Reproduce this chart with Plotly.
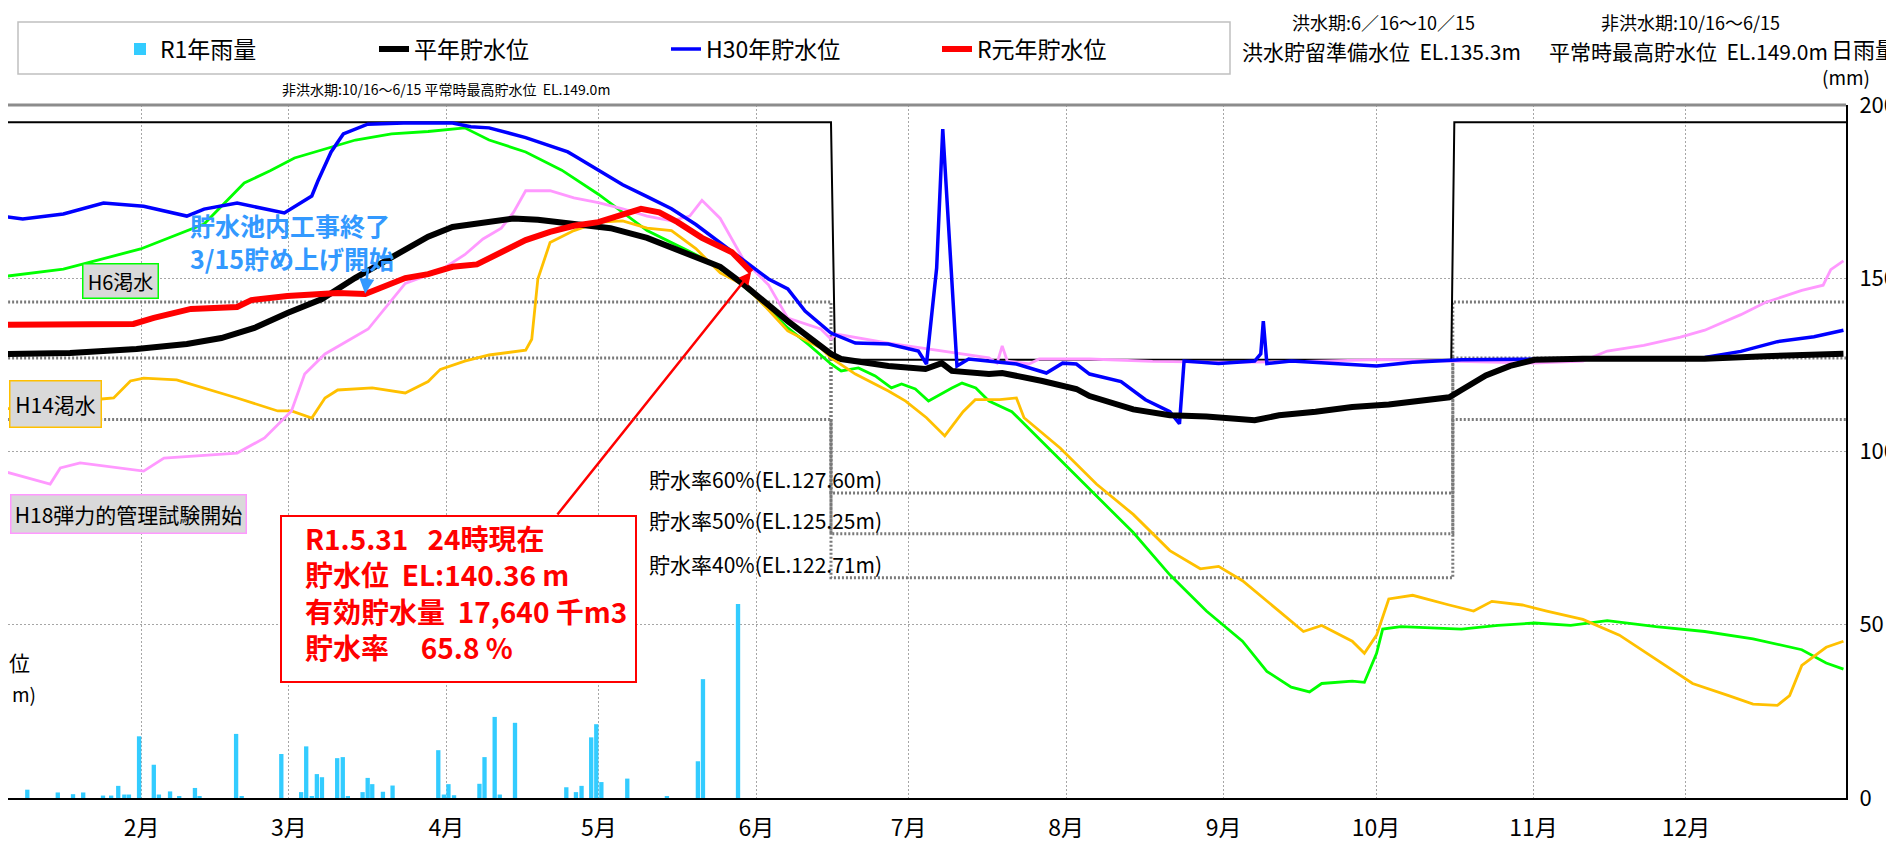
import plotly.graph_objects as go

FONT = "Noto Sans CJK JP"

# ---------------- data ----------------
# x = day index from Jan 1 (0) on a 366-day calendar; water level in EL.m; daily rain in mm
month_days = [31, 60, 91, 121, 152, 182, 213, 244, 274, 305, 335]
month_text = ["2月", "3月", "4月", "5月", "6月", "7月", "8月", "9月", "10月", "11月", "12月"]
rain_ticks = [0, 50, 100, 150, 200]

rain_day = [8.5, 14.5, 17.5, 19.5, 23.4, 25.0, 26.4, 27.6, 28.5, 30.5,
            33.4, 34.4, 36.6, 38.4, 41.5, 42.4, 49.6, 50.7, 58.5, 62.4,
            63.4, 64.5, 65.5, 66.5, 69.5, 70.6, 71.6, 74.5, 75.5, 76.4,
            78.5, 80.4, 89.4, 90.5, 91.4, 92.5, 97.5, 98.5, 100.5, 101.5,
            104.5, 114.6, 116.5, 117.6, 119.5, 120.5, 121.5, 126.6, 134.4, 140.5,
            141.5, 148.4]
rain_mm = [2.4, 1.6, 1.1, 1.6, 0.7, 0.7, 3.5, 1.0, 1.0, 17.8,
           9.6, 1.0, 1.9, 0.5, 2.9, 0.4, 18.5, 0.4, 12.7, 1.7,
           14.9, 0.4, 6.9, 6.0, 11.5, 11.8, 0.4, 1.7, 5.8, 4.0,
           1.8, 3.6, 13.8, 1.0, 4.0, 0.8, 4.1, 11.8, 23.4, 1.0,
           21.7, 3.1, 1.7, 3.5, 17.5, 21.3, 4.6, 5.6, 0.3, 10.6,
           34.3, 56.0]

heinen_day = [0, 16.9, 30.0, 39.9, 46.7, 53.2, 59.7, 66.5, 73.0, 82.9,
              87.4, 92.2, 99.4, 104.2, 109.0, 116.1, 123.3, 130.5, 137.7, 144.9,
              149.6, 156.8, 158.2, 166.7, 168.7, 178.0, 185.3, 188.5, 190.5, 197.8,
              200.4, 208.3, 215.0, 217.6, 226.2, 233.4, 240.6, 250.1, 254.9, 262.1,
              269.3, 276.5, 283.6, 288.4, 290.8, 295.6, 300.4, 305.2, 314.7, 338.7,
              350.6, 366]
heinen_el = [135.6, 135.68, 135.92, 136.21, 136.55, 137.13, 138.0, 138.8, 140.01, 141.69,
             142.4, 142.96, 143.24, 143.45, 143.38, 143.1, 142.89, 142.33, 141.5, 140.66,
             139.62, 137.9, 137.53, 135.63, 135.34, 134.94, 134.76, 135.1, 134.65, 134.47,
             134.53, 134.07, 133.61, 133.2, 132.43, 132.09, 132.02, 131.81, 132.09, 132.3,
             132.57, 132.71, 132.99, 133.13, 133.55, 134.39, 134.94, 135.29, 135.36, 135.36,
             135.5, 135.64]

r1_day = [0, 29.4, 33.4, 40.7, 49.8, 52.6, 59.7, 69.6, 75.0, 82.9,
          87.4, 92.2, 97.0, 101.8, 106.6, 111.4, 116.1, 120.9, 125.7, 129.3,
          132.9, 136.5, 141.3, 147.2, 151]
r1_el = [137.3, 137.36, 137.71, 138.23, 138.34, 138.74, 138.98, 139.15, 139.09, 140.01,
         140.24, 140.66, 140.8, 141.5, 142.2, 142.68, 143.03, 143.24, 143.73, 144.01,
         143.8, 143.24, 142.33, 141.5, 140.36]

h30_day = [0, 7.6, 15.6, 23.5, 31.4, 39.9, 43.3, 49.8, 59.1, 63.1,
           64.5, 65.7, 68.3, 70.7, 75.5, 82.6, 92.2, 95.8, 99.4, 106.6,
           111.4, 114.9, 116.1, 120.9, 125.7, 130.5, 135.3, 140.1, 144.9, 149.6,
           154.4, 158.2, 161.6, 166.7, 171.5, 178.0, 183.9, 185.5, 187.5, 188.7,
           191.5, 193.8, 199.2, 203.2, 209.1, 212.3, 215.0, 217.6, 223.8, 228.6,
           233.4, 235.3, 236.2, 243.0, 250.1, 251.3, 251.8, 252.5, 257.3, 266.9,
           274.1, 281.2, 290.8, 314.7, 338.7, 345.8, 353.0, 360.2, 366]
h30_el = [143.71, 143.42, 143.71, 144.34, 144.16, 143.59, 143.99, 144.34, 143.77, 144.46,
          144.75, 145.61, 147.29, 148.33, 148.89, 148.96, 148.96, 148.75, 148.68, 148.12,
          147.63, 147.29, 147.08, 146.24, 145.4, 144.71, 144.01, 143.1, 142.06, 141.01,
          139.96, 139.38, 138.11, 136.84, 136.26, 136.2, 135.8, 135.05, 140.59, 148.61,
          134.94, 135.34, 135.2, 135.05, 134.53, 135.1, 135.05, 134.47, 134.04, 132.99,
          132.3, 131.6, 135.22, 135.08, 135.22, 135.64, 137.52, 135.08, 135.22, 135.08,
          134.94, 135.15, 135.29, 135.36, 135.43, 135.78, 136.34, 136.62, 137.0]

h6_day = [0, 15.6, 30.8, 43.3, 51.2, 56.3, 61.1, 65.9, 73.1, 80.2,
          87.4, 94.6, 99.4, 106.6, 113.7, 120.9, 125.7, 130.5, 137.7, 142.5,
          147.2, 152.0, 158.2, 162.2, 166.7, 168.7, 172.1, 175.4, 178.6, 180.6,
          183.3, 185.9, 190.5, 192.5, 195.2, 197.8, 202.3, 207.1, 211.8, 219.0,
          226.2, 233.4, 240.6, 247.7, 252.5, 257.3, 260.9, 263.3, 269.3, 271.7,
          274.1, 275.3, 278.9, 290.8, 298.0, 305.2, 312.3, 319.5, 329.1, 338.7,
          348.2, 357.8, 362.6, 366]
h6_el = [139.96, 140.53, 141.69, 143.13, 145.5, 146.2, 146.94, 147.36, 147.98, 148.33,
         148.47, 148.68, 147.98, 147.29, 146.24, 144.85, 143.8, 142.75, 141.71, 141.01,
         140.1, 138.92, 137.13, 136.2, 135.05, 134.65, 134.82, 134.36, 133.67, 133.9,
         133.61, 132.91, 133.67, 133.95, 133.67, 132.91, 132.3, 130.9, 129.51, 127.41,
         125.32, 122.88, 120.79, 119.05, 117.31, 116.4, 116.12, 116.61, 116.75, 116.68,
         118.35, 119.75, 119.89, 119.75, 119.96, 120.1, 119.96, 120.24, 119.89, 119.61,
         119.19, 118.56, 117.79, 117.44]

h14_day = [0, 12.0, 23.1, 25.5, 28.8, 31.4, 37.9, 49.8, 57.8, 60.5,
           64.5, 67.1, 69.6, 76.4, 82.9, 87.4, 89.8, 94.6, 99.4, 104.2,
           106.6, 107.8, 109.0, 111.4, 116.1, 120.9, 125.7, 130.5, 135.3, 140.1,
           144.9, 149.6, 154.0, 158.2, 164.7, 166.7, 171.5, 178.0, 181.4, 185.5,
           189.1, 192.7, 195.1, 199.9, 203.2, 204.7, 211.8, 219.0, 226.2, 233.4,
           239.4, 243.0, 247.7, 254.9, 259.7, 263.3, 269.3, 271.7, 274.1, 276.5,
           281.2, 288.4, 293.2, 296.8, 302.8, 307.6, 314.7, 321.9, 329.1, 336.3,
           343.4, 348.2, 353.0, 355.4, 357.8, 362.6, 366]
h14_el = [132.4, 132.6, 133.03, 133.09, 134.07, 134.24, 134.13, 133.09, 132.34, 132.34,
          131.93, 133.09, 133.55, 133.67, 133.38, 134.04, 134.74, 135.22, 135.57, 135.78,
          135.85, 136.48, 139.96, 142.06, 142.75, 143.24, 143.31, 142.89, 142.75, 141.71,
          140.31, 139.6, 138.3, 136.96, 135.97, 135.4, 134.47, 133.49, 132.91, 131.95,
          130.9, 132.3, 132.99, 132.99, 133.09, 131.95, 130.2, 128.11, 126.37, 124.28,
          123.23, 123.37, 122.54, 120.79, 119.61, 119.96, 119.05, 118.35, 119.4, 121.49,
          121.7, 121.14, 120.79, 121.35, 121.14, 120.79, 120.31, 119.4, 118.0, 116.61,
          115.91, 115.42, 115.35, 115.91, 117.65, 118.7, 119.05]

h18_day = [0, 13.0, 15.0, 18.9, 31.4, 35.4, 49.8, 55.2, 60.5, 63.1,
           67.1, 75.6, 82.9, 89.8, 94.6, 98.2, 101.8, 104.2, 106.6, 111.4,
           116.1, 120.9, 125.7, 130.5, 135.3, 138.9, 141.3, 144.9, 149.6, 154.4,
           158.2, 164.7, 166.7, 167.7, 178.0, 197.8, 199.4, 200.4, 201.4, 205.7,
           207.7, 217.6, 230, 245, 260, 275, 290, 305, 314.7, 319.5,
           326.7, 333.9, 338.7, 345.8, 350.6, 357.8, 362.0, 363.5, 366]
h18_el = [129.16, 128.12, 129.05, 129.34, 128.87, 129.62, 129.91, 130.78, 132.34, 134.47,
          135.63, 137.07, 139.7, 140.45, 141.36, 142.27, 142.89, 143.8, 145.05, 145.05,
          144.64, 144.36, 144.01, 143.59, 143.31, 143.59, 144.5, 143.45, 141.01, 139.62,
          137.7, 137.07, 136.49, 136.78, 136.26, 135.4, 135.1, 136.09, 135.22, 135.05,
          135.34, 135.34, 135.2, 135.15, 135.2, 135.3, 135.2, 135.1, 135.22, 135.8,
          136.13, 136.6, 137.0, 137.9, 138.6, 139.3, 139.6, 140.5, 141.0]

# operating rule (flood season 6/16-10/15)
rule_day = [0, 166.7, 167.5, 288.8, 289.4, 366.5]
rule_el = [149.0, 149.0, 135.3, 135.3, 149.0, 149.0]

# storage-rate guide lines
guide_day = [0, 166.7, 166.7, 289.1, 289.1, 366.5]
guide_hi_el = [138.63, 138.63, 127.60, 127.60, 138.63, 138.63]
guide_mid_el = [135.4, 135.4, 125.25, 125.25, 135.4, 135.4]
guide_lo_el = [131.84, 131.84, 122.71, 122.71, 131.84, 131.84]

# ---------------- layout geometry ----------------
W, H = 1894, 846
PL, PR, PT, PB = 0, 1838, 97, 790
PW, PH = PR - PL, PB - PT
X_RANGE = [4.7, 366.5]


def px(x):
    return (x - PL) / PW


def py(y):
    return (PB - y) / PH


fig = go.Figure()

fig.add_trace(go.Bar(x=rain_day, y=rain_mm, name="R1年雨量", yaxis="y",
                     marker=dict(color="#33CCFF", line=dict(width=0)), width=0.85,
                     legendrank=1, legendwidth=209, hoverinfo="skip"))

for g in (guide_hi_el, guide_mid_el, guide_lo_el):
    fig.add_trace(go.Scatter(x=guide_day, y=g, yaxis="y2", mode="lines", showlegend=False,
                             line=dict(color="#7a7a7a", width=3, dash="2px,2px"), hoverinfo="skip"))

fig.add_trace(go.Scatter(x=rule_day, y=rule_el, yaxis="y2", mode="lines", showlegend=False,
                         line=dict(color="black", width=2), hoverinfo="skip"))

fig.add_trace(go.Scatter(x=h6_day, y=h6_el, yaxis="y2", mode="lines", showlegend=False,
                         line=dict(color="#00FF00", width=2.8), hoverinfo="skip"))
fig.add_trace(go.Scatter(x=h14_day, y=h14_el, yaxis="y2", mode="lines", showlegend=False,
                         line=dict(color="#FFC000", width=2.8), hoverinfo="skip"))
fig.add_trace(go.Scatter(x=h18_day, y=h18_el, yaxis="y2", mode="lines", showlegend=False,
                         line=dict(color="#FF99FF", width=2.8), hoverinfo="skip"))
fig.add_trace(go.Scatter(x=h30_day, y=h30_el, yaxis="y2", mode="lines", name="H30年貯水位",
                         line=dict(color="#0000FF", width=3.5), legendrank=3, legendwidth=226,
                         hoverinfo="skip"))
fig.add_trace(go.Scatter(x=heinen_day, y=heinen_el, yaxis="y2", mode="lines", name="平年貯水位",
                         line=dict(color="black", width=6), legendrank=2, legendwidth=247,
                         hoverinfo="skip"))
fig.add_trace(go.Scatter(x=r1_day, y=r1_el, yaxis="y2", mode="lines", name="R元年貯水位",
                         line=dict(color="#FF0000", width=6), legendrank=4, legendwidth=140,
                         hoverinfo="skip"))

NB = "\u00a0"
ann = []


def text(x, y, t, size, xanchor="left", color="black", **kw):
    d = dict(x=x, y=y, xref="paper", yref="paper", text=t, showarrow=False,
             xanchor=xanchor, yanchor="middle", font=dict(size=size, color=color, family=FONT))
    d.update(kw)
    ann.append(d)


# header texts
text(px(272), py(81), "非洪水期:10/16～6/15 平常時最高貯水位" + NB * 2 + "EL.149.0m", 14)
text(px(1375), py(14.5), "洪水期:6／16～10／15", 18, "center")
text(px(1682), py(14.5), "非洪水期:10/16～6/15", 18, "center")
text(px(1373), py(43), "洪水貯留準備水位" + NB * 2 + "EL.135.3m", 21, "center")
text(px(1680), py(43), "平常時最高貯水位" + NB * 2 + "EL.149.0m", 21, "center")
text(px(1891), py(40), "日雨量", 22, "right")
text(px(1838), py(68), "(mm)", 19, "center")

# visible part of the (cropped) left axis title
text(px(24), py(654), "位", 21, "right")
text(px(30), py(685), "m)", 19, "right")

# drought-year label boxes
text(px(112), py(272.5), "H6渇水", 20, "center", bgcolor="#D9D9D9", bordercolor="#00FF00",
     borderwidth=1.5, borderpad=0, width=74, height=33)
text(px(47), py(396), "H14渇水", 21, "center", bgcolor="#D9D9D9", bordercolor="#FFC000",
     borderwidth=1.5, borderpad=0, width=90, height=45)
text(px(120), py(505.5), "H18弾力的管理試験開始", 21, "center", bgcolor="#D9D9D9",
     bordercolor="#FF99FF", borderwidth=1.5, borderpad=0, width=234, height=37)

# blue note
text(px(180), py(217), "<b>貯水池内工事終了</b>", 25, color="#3399FF")
text(px(180), py(250), "<b>3/15貯め上げ開始</b>", 25, color="#3399FF")
ann.append(dict(x=75.0, y=139.1, xref="x", yref="y2", text="", showarrow=True, ax=3, ay=-27,
                arrowhead=2, arrowsize=1.2, arrowwidth=2.5, arrowcolor="#3399FF"))

# current-status box
status_lines = [
    "R1.5.31" + NB * 3 + "24時現在",
    "貯水位" + NB * 2 + "EL:140.36" + NB + "m",
    "有効貯水量" + NB * 2 + "17,640" + NB + "千m3",
    "貯水率" + NB * 5 + "65.8" + NB + "%",
]
text(px(295), py(584), "<b>" + "<br>".join(status_lines) + "</b>", 28, color="#FF0000", align="left")
ann.append(dict(x=151, y=140.36, xref="x", yref="y2", text="", showarrow=True, ax=-195, ay=244,
                arrowhead=2, arrowsize=1, arrowwidth=2.5, arrowcolor="#FF0000"))

# guide labels
text(px(639), py(471), "貯水率60%(EL.127.60m)", 21)
text(px(639), py(512), "貯水率50%(EL.125.25m)", 21)
text(px(639), py(556), "貯水率40%(EL.122.71m)", 21)

shapes = [
    dict(type="line", xref="paper", yref="paper", x0=0, x1=1, y0=1, y1=1,
         line=dict(color="#8c8c8c", width=3), layer="above"),
    dict(type="rect", xref="paper", yref="paper", x0=px(273), x1=px(628), y0=py(674), y1=py(508),
         line=dict(color="#FF0000", width=2), fillcolor="white", layer="above"),
    dict(type="rect", xref="paper", yref="paper", x0=px(10), x1=px(1222), y0=py(66), y1=py(14),
         line=dict(color="#c0c0c0", width=1.5), fillcolor="white", layer="below"),
]

grid = dict(showgrid=True, gridcolor="#a6a6a6", gridwidth=1, griddash="2px,2px")

fig.update_layout(
    width=W, height=H,
    margin=dict(l=PL, r=W - PR, t=PT, b=H - PB, autoexpand=False),
    paper_bgcolor="white", plot_bgcolor="white",
    font=dict(family=FONT, color="black"),
    barmode="overlay",
    xaxis=dict(range=X_RANGE, tickmode="array", tickvals=month_days, ticktext=month_text,
               showline=True, linecolor="black", linewidth=2, ticks="", zeroline=False,
               tickfont=dict(size=23, family=FONT), ticklabelstandoff=8, **grid),
    yaxis=dict(range=[0, 200], side="right", tickmode="array", tickvals=rain_ticks,
               showline=True, linecolor="black", linewidth=2, ticks="", zeroline=False,
               tickfont=dict(size=22, family=FONT), ticklabelstandoff=7, **grid),
    yaxis2=dict(range=[110, 150], overlaying="y", side="left", showgrid=False,
                showticklabels=False, showline=False, zeroline=False),
    legend=dict(orientation="h", x=px(112), y=py(41), xanchor="left", yanchor="middle",
                bgcolor="rgba(0,0,0,0)", borderwidth=0, font=dict(size=23, family=FONT),
                entrywidthmode="pixels"),
    shapes=shapes,
    annotations=ann,
)

fig.write_html("out.html")
